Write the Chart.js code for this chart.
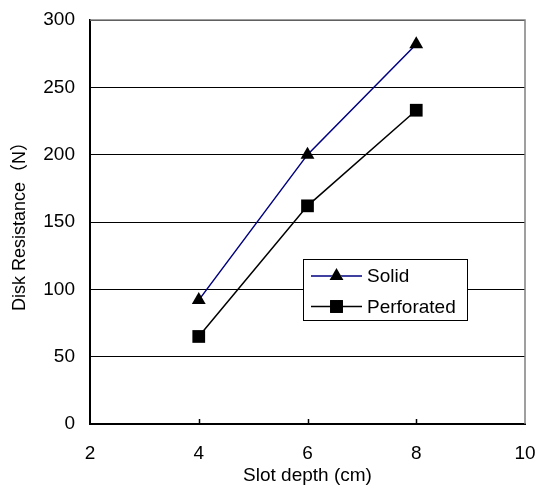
<!DOCTYPE html>
<html>
<head>
<meta charset="utf-8">
<script src="https://cdn.jsdelivr.net/npm/chart.js@4.4.1/dist/chart.umd.min.js"></script>
<style>
  html, body { margin: 0; padding: 0; background: #fff; }
  #wrap { width: 537px; height: 487px; }
</style>
</head>
<body>
<div id="wrap"><canvas id="chart" width="537" height="487"></canvas></div>
<script>
// Data
const slotDepth = [4, 6, 8];
const solid = [92, 200, 282];
const perforated = [65, 162, 233];
const xTicks = [2, 4, 6, 8, 10];
const yTicks = [0, 50, 100, 150, 200, 250, 300];

Chart.defaults.font.family = "'Liberation Sans', Arial, 'Noto Sans CJK SC', sans-serif";
Chart.defaults.font.size = 19;
Chart.defaults.color = "#000";

function toPoints(values) {
  return slotDepth.map((x, i) => ({ x, y: values[i] }));
}

// draws the gray frame, inward x ticks and the boxed legend
const frameAndLegend = {
  id: "frameAndLegend",
  afterDatasetsDraw(chart) {
    const { ctx, chartArea: a, scales } = chart;
    ctx.save();
    ctx.strokeStyle = "#808080";
    ctx.lineWidth = 1.5;
    ctx.beginPath();
    ctx.moveTo(a.left, a.top);
    ctx.lineTo(a.right, a.top);
    ctx.lineTo(a.right, a.bottom);
    ctx.stroke();

    ctx.strokeStyle = "#000";
    ctx.lineWidth = 1.5;
    xTicks.slice(1, -1).forEach(v => {
      const px = Math.round(scales.x.getPixelForValue(v)) + 0.5;
      ctx.beginPath();
      ctx.moveTo(px, a.bottom);
      ctx.lineTo(px, a.bottom - 5);
      ctx.stroke();
    });

    // legend box
    const box = { x: 303.5, y: 259.5, w: 164, h: 61 };
    ctx.fillStyle = "#fff";
    ctx.fillRect(box.x, box.y, box.w, box.h);
    ctx.strokeStyle = "#000";
    ctx.lineWidth = 1;
    ctx.strokeRect(box.x, box.y, box.w, box.h);

    chart.data.datasets.forEach((ds, i) => {
      const y = 276 + i * 30.5;
      ctx.strokeStyle = ds.borderColor;
      ctx.lineWidth = 1.5;
      ctx.beginPath();
      ctx.moveTo(311, y);
      ctx.lineTo(362, y);
      ctx.stroke();
      Chart.helpers.drawPoint(ctx, {
        pointStyle: ds.pointStyle,
        radius: ds.pointRadius,
        borderWidth: 0,
        rotation: 0
      }, 336.5, y);
      ctx.fillStyle = "#000";
      ctx.fill();
      ctx.font = "19px 'Liberation Sans', Arial, sans-serif";
      ctx.textBaseline = "middle";
      ctx.textAlign = "left";
      ctx.fillText(ds.label, 367, y + 1);
    });
    ctx.restore();
  }
};

new Chart(document.getElementById("chart"), {
  type: "line",
  data: {
    datasets: [
      {
        label: "Solid",
        data: toPoints(solid),
        borderColor: "#000080",
        borderWidth: 1.5,
        pointStyle: "triangle",
        pointRadius: 8,
        pointBackgroundColor: "#000",
        pointBorderColor: "#000",
        pointBorderWidth: 0
      },
      {
        label: "Perforated",
        data: toPoints(perforated),
        borderColor: "#000",
        borderWidth: 1.5,
        pointStyle: "rect",
        pointRadius: 9,
        pointBackgroundColor: "#000",
        pointBorderColor: "#000",
        pointBorderWidth: 0
      }
    ]
  },
  options: {
    responsive: false,
    animation: false,
    layout: { padding: { top: 20, right: 12, bottom: 0, left: 0 } },
    plugins: {
      legend: { display: false },
      tooltip: { enabled: false }
    },
    scales: {
      x: {
        type: "linear",
        min: xTicks[0],
        max: xTicks[xTicks.length - 1],
        afterBuildTicks: s => { s.ticks = xTicks.map(v => ({ value: v })); },
        afterFit: s => { s.height = 63; s.paddingLeft = 0; s.paddingRight = 0; },
        grid: { display: false, drawTicks: false },
        border: { display: true, color: "#000", width: 2 },
        ticks: { padding: 18, color: "#000", maxRotation: 0 },
        title: {
          display: true,
          text: "Slot depth (cm)",
          color: "#000",
          padding: { top: 0, bottom: 0 }
        }
      },
      y: {
        min: yTicks[0],
        max: yTicks[yTicks.length - 1],
        afterBuildTicks: s => { s.ticks = yTicks.map(v => ({ value: v })); },
        afterFit: s => { s.width = 90; s.paddingTop = 0; s.paddingBottom = 0; },
        grid: { color: "#000", lineWidth: 1, drawTicks: false },
        border: { display: true, color: "#000", width: 2 },
        ticks: { padding: 15, color: "#000" },
        title: {
          display: true,
          text: "Disk Resistance（N）",
          color: "#000",
          font: { size: 18 },
          padding: { top: 9, bottom: 0 }
        }
      }
    }
  },
  plugins: [frameAndLegend]
});
</script>
</body>
</html>
